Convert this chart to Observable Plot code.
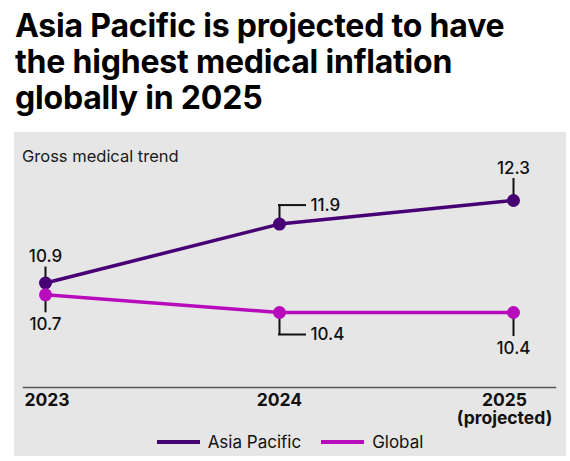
<!DOCTYPE html>
<html>
<head>
<meta charset="utf-8">
<script src="https://cdn.jsdelivr.net/npm/d3@7"></script>
<script src="https://cdn.jsdelivr.net/npm/@observablehq/plot@0.6"></script>
<style>
  body { margin: 0; background: #fff; font-family: Inter, sans-serif; }
  #title { position: absolute; left: 15px; top: 8px; width: 540px; font-size: 32px; font-weight: 700; line-height: 36px; color: #000; letter-spacing: -0.2px; }
  #panel { position: absolute; left: 14px; top: 132px; width: 552px; height: 324px; background: #e6e6e6; }
  #sub { position: absolute; left: 8px; top: 14px; font-size: 16.5px; color: #1a1a1a; }
  #chart { position: absolute; left: 0; top: 0; }
  #legend { position: absolute; left: 0; top: 298px; width: 552px; height: 24px; display: flex; justify-content: center; align-items: center; font-size: 17px; color: #111; }
  .item { display: flex; align-items: center; margin: 0 10px; }
  .sw { width: 43px; height: 4px; margin-right: 8px; }
</style>
</head>
<body>
<div id="title">Asia Pacific is projected to have<br>the highest medical inflation<br>globally in 2025</div>
<div id="panel">
  <div id="chart"></div>
  <div id="sub">Gross medical trend</div>
  <div id="legend"></div>
</div>
<script>
const years = [2023, 2024, 2025]
const yearLabels = ['2023', '2024', '2025\n(projected)']
const seriesNames = ['Asia Pacific', 'Global']
const asiaPacific = [10.9, 11.9, 12.3]
const global = [10.7, 10.4, 10.4]
const colors = ['#460073', '#b80cbc']

const rows = [
  ...years.map((y, i) => ({series: 'Asia Pacific', year: y, value: asiaPacific[i]})),
  ...years.map((y, i) => ({series: 'Global', year: y, value: global[i]})),
]

// label leaders: dir -1 = above, 1 = below
const notes = [
  {series: 'Asia Pacific', year: 2023, dir: -1, len: 16, elbow: false},
  {series: 'Asia Pacific', year: 2024, dir: -1, len: 19, elbow: true},
  {series: 'Asia Pacific', year: 2025, dir: -1, len: 22, elbow: false},
  {series: 'Global', year: 2023, dir: 1, len: 18, elbow: false},
  {series: 'Global', year: 2024, dir: 1, len: 22, elbow: true},
  {series: 'Global', year: 2025, dir: 1, len: 24, elbow: false},
]

let noteMarks = []
notes.forEach(n => {
  const d = rows.filter(r => r.series == n.series && r.year == n.year)
  noteMarks.push(Plot.ruleX(d, {
    x: 'year', y1: 'value', y2: 'value',
    insetTop: n.dir < 0 ? -n.len : 0,
    insetBottom: n.dir > 0 ? -n.len : 0,
    stroke: '#111', strokeWidth: 2,
  }))
  if (n.elbow) {
    noteMarks.push(Plot.ruleY(d, {
      y: 'value', x1: 'year', x2: 'year', insetRight: -26, dy: n.dir * n.len,
      stroke: '#111', strokeWidth: 2, strokeLinecap: 'square',
    }))
    noteMarks.push(Plot.text(d, {
      x: 'year', y: 'value', text: d => d.value.toFixed(1),
      textAnchor: 'start', lineAnchor: 'middle', dx: 31, dy: n.dir * n.len,
      fontSize: 17, fontWeight: 500, fill: '#111',
    }))
  } else {
    noteMarks.push(Plot.text(d, {
      x: 'year', y: 'value', text: d => d.value.toFixed(1),
      textAnchor: 'middle', lineAnchor: n.dir < 0 ? 'bottom' : 'top',
      dy: n.dir * (n.len + 5),
      fontSize: 17, fontWeight: 500, fill: '#111',
    }))
  }
})

const tickText = (i, anchor, dx) => Plot.text([years[i]], {
  x: d => d, frameAnchor: 'bottom', text: () => yearLabels[i],
  textAnchor: anchor, lineAnchor: 'top', dx: dx, dy: 5, lineHeight: 1.05,
  fontSize: 17.5, fontWeight: 700, fill: '#111',
})

let chart = Plot.plot({
  width: 552,
  height: 296,
  marginLeft: 9,
  marginRight: 11,
  marginTop: 20,
  marginBottom: 41,
  style: {background: 'transparent', fontFamily: 'Inter, sans-serif'},
  x: {domain: [2023, 2025], insetLeft: 22, insetRight: 42, axis: null},
  y: {domain: [10.4, 12.3], range: [180, 68], axis: null},
  color: {domain: seriesNames, range: colors},
  marks: [
    Plot.frame({anchor: 'bottom', stroke: '#555', strokeWidth: 1.3}),
    ...noteMarks,
    Plot.line(rows, {x: 'year', y: 'value', z: 'series', stroke: 'series', strokeWidth: 3.5}),
    Plot.dot(rows, {x: 'year', y: 'value', fill: 'series', r: 6.5}),
    tickText(0, 'start', -21),
    tickText(1, 'middle', 0),
    tickText(2, 'middle', -9),
  ],
})
d3.select('#chart').append(() => chart)

const legend = d3.select('#legend')
seriesNames.forEach((s, i) => {
  const it = legend.append('div').attr('class', 'item')
  it.append('div').attr('class', 'sw').style('background', colors[i])
  it.append('span').text(s)
})
</script>
</body>
</html>
